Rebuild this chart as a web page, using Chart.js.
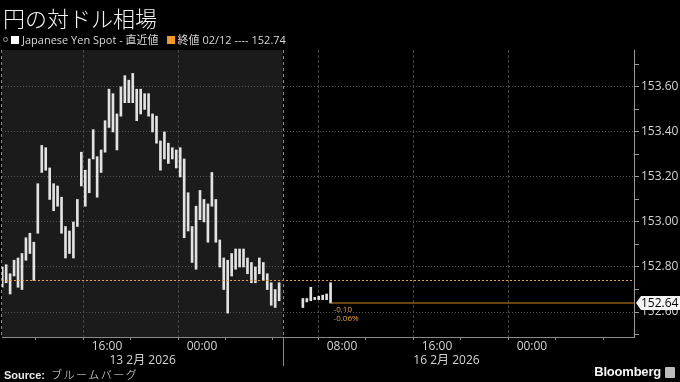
<!DOCTYPE html>
<html>
<head>
<meta charset="utf-8">
<script src="https://cdn.jsdelivr.net/npm/chart.js@4/dist/chart.umd.min.js"></script>
<style>
body { margin:0; background:#000; }
#wrap { position:relative; width:680px; height:382px; background:#000; overflow:hidden;
  font-family:"Open Sans","Noto Sans CJK JP",sans-serif; color:#dcdcdc; }
#chart { position:absolute; left:0; top:0; }
#title { position:absolute; left:3px; top:1px; font-family:"Noto Sans CJK JP",sans-serif; font-weight:300;
  font-size:22px; line-height:32px; color:#f2f2f2; white-space:nowrap; }
#legend { position:absolute; left:3px; top:32px; font-size:11px; line-height:16px; white-space:nowrap; color:#d8d8d8; }
#legend .sq { display:inline-block; width:8px; height:8px; margin-right:3px; vertical-align:-0px; }
#legend .pin { display:inline-block; width:3px; height:3px; border:1px solid #999; border-radius:3px; margin-right:3px; vertical-align:2px; }
#source { position:absolute; left:4px; top:366px; font-size:11px; line-height:16px; white-space:nowrap; color:#e8e8e8; }
#source b { font-family:"Liberation Sans",sans-serif; font-weight:bold; }
#source span { font-family:"Noto Sans CJK JP",sans-serif; font-weight:300; letter-spacing:1.5px; margin-left:6px; }
#brand { position:absolute; right:19px; top:364px; font-family:"Liberation Sans",sans-serif; font-weight:bold;
  font-size:13px; line-height:16px; color:#f4f4f4; letter-spacing:-0.2px; }
#brandIcon { position:absolute; left:665px; top:367px; width:10px; height:11px; background:#bdbdbd; border-radius:1px; }
</style>
</head>
<body>
<div id="wrap">
  <canvas id="chart" width="680" height="382"></canvas>
  <div id="title">円の対ドル相場</div>
  <div id="legend"></div>
  <div id="source"><b>Source:</b><span>ブルームバーグ</span></div>
  <div id="brand">Bloomberg</div>
  <div id="brandIcon"></div>
</div>
<script>
// 20 minute high/low bars, Tokyo time
var barMinutes = 20;
var fridayStartHour = 7;               // 13 Feb 07:00
var mondayStartHour = 4 + 32 / 60;     // 16 Feb 04:32
var fridayLow = [152.71,152.73,152.68,152.76,152.71,152.70,152.83,152.86,152.74,152.95,
  153.22,153.23,153.10,153.05,153.07,152.95,152.84,152.86,152.84,152.98,
  153.16,153.07,153.13,153.28,153.11,153.22,153.31,153.42,153.40,153.32,
  153.47,153.53,153.53,153.53,153.45,153.48,153.50,153.47,153.40,153.35,
  153.23,153.28,153.26,153.28,153.24,153.20,152.93,152.96,152.82,152.79,
  153.01,153.00,152.91,153.07,152.91,152.80,152.70,152.595,152.76,152.79,
  152.80,152.80,152.77,152.73,152.73,152.77,152.74,152.70,152.63,152.62,152.65];
var fridayHigh = [152.80,152.81,152.77,152.83,152.84,152.86,152.93,152.95,152.91,153.17,
  153.34,153.33,153.24,153.17,153.16,153.11,152.98,152.96,153.00,153.10,
  153.31,153.23,153.28,153.41,153.29,153.32,153.45,153.59,153.57,153.48,
  153.60,153.65,153.63,153.66,153.59,153.59,153.57,153.57,153.48,153.47,
  153.36,153.40,153.35,153.33,153.32,153.33,153.28,153.13,152.98,153.07,
  153.14,153.10,153.08,153.22,153.10,152.92,152.84,152.83,152.86,152.88,
  152.88,152.88,152.84,152.82,152.80,152.84,152.82,152.77,152.73,152.70,152.73];
var mondayLow  = [152.62,152.645,152.65,152.655,152.655,152.655,152.655,152.64];
var mondayHigh = [152.66,152.66,152.71,152.665,152.67,152.675,152.68,152.73];

var prevClose = 152.74;
var prevCloseDate = '02/12';
var lastPrice = 152.64;
var changeText = ['-0.10', '-0.06%'];
var seriesName = 'Japanese Yen Spot - 直近値';

var yTickValues = [152.5,152.6,152.7,152.8,152.9,153.0,153.1,153.2,153.3,153.4,153.5,153.6,153.7];
var fridayTickHours = [8, 12, 16, 20, 24, 28];
var fridayTickLabels = ['', '', '16:00', '', '00:00', ''];
var mondayTickHours = [4, 8, 12, 16, 20, 24, 28];
var mondayTickLabels = ['', '08:00', '', '16:00', '', '00:00', ''];
var dateLabels = ['13 2月 2026', '16 2月 2026'];
var dateLabelHours = [19, 16.8];   // fri, mon

// axis is in hours from 13 Feb 08:00 with the weekend squeezed out
function fri(h) { return h - 8; }
function mon(h) { return h + 19.8; }
var sessionBreak = fri(30.8);
var xMin = fri(7.15), xMax = mon(32.6);

document.getElementById('legend').innerHTML =
  '<span class="pin"></span><span class="sq" style="background:#fff"></span>' + seriesName +
  '<span class="sq" style="background:#f39a1e;margin-left:8px"></span>終値 ' + prevCloseDate + ' ---- ' + prevClose.toFixed(2);

var bars = [];
var step = barMinutes / 60;
for (var i = 0; i < fridayLow.length; i++)
  bars.push({ x: fri(fridayStartHour + i * step + step / 2), y: [fridayLow[i], fridayHigh[i]] });
for (var j = 0; j < mondayLow.length; j++)
  bars.push({ x: mon(mondayStartHour + j * step + step / 2), y: [mondayLow[j], mondayHigh[j]] });
var lastX = bars[bars.length - 1].x;

var xTickValues = [], xTickLabels = [], xTickGrid = [];
fridayTickHours.forEach(function (h, k) { xTickValues.push(fri(h)); xTickLabels.push(fridayTickLabels[k]); xTickGrid.push(h % 8 === 0); });
mondayTickHours.forEach(function (h, k) { xTickValues.push(mon(h)); xTickLabels.push(mondayTickLabels[k]); xTickGrid.push(h % 8 === 0); });

var decor = {
  id: 'decor',
  beforeDraw: function (chart) {
    var a = chart.chartArea, ctx = chart.ctx;
    var sepX = chart.scales.x.getPixelForValue(sessionBreak);
    ctx.save();
    ctx.fillStyle = '#1b1b1b';
    ctx.fillRect(a.left, a.top, sepX - a.left, a.bottom - a.top);
    ctx.restore();
  },
  afterDraw: function (chart) {
    var a = chart.chartArea, ctx = chart.ctx, xs = chart.scales.x, ys = chart.scales.y;
    var sepX = Math.round(xs.getPixelForValue(sessionBreak)) + 0.5;
    ctx.save();
    ctx.strokeStyle = '#8a8a8a';
    ctx.lineWidth = 1;
    ctx.setLineDash([3, 3]);
    ctx.beginPath();
    ctx.moveTo(sepX, a.top); ctx.lineTo(sepX, a.bottom);
    ctx.moveTo(a.left - 0.5, a.top); ctx.lineTo(a.left - 0.5, a.bottom);
    ctx.stroke();
    ctx.setLineDash([]);
    ctx.beginPath();
    ctx.moveTo(sepX, a.bottom); ctx.lineTo(sepX, 366);
    ctx.stroke();

    // day labels
    ctx.fillStyle = '#d4d4d4';
    ctx.font = '12px "Open Sans", "Noto Sans CJK JP"';
    ctx.textAlign = 'center';
    ctx.textBaseline = 'middle';
    ctx.fillText(dateLabels[0], xs.getPixelForValue(fri(dateLabelHours[0])), 361);
    ctx.fillText(dateLabels[1], xs.getPixelForValue(mon(dateLabelHours[1])), 361);

    // change labels next to last bar
    var ly = ys.getPixelForValue(lastPrice);
    var lx = xs.getPixelForValue(lastX) + 3;
    ctx.fillStyle = '#f0a030';
    ctx.font = '8px "Open Sans"';
    ctx.textAlign = 'left';
    ctx.fillText(changeText[0], lx, ly + 7);
    ctx.fillText(changeText[1], lx, ly + 16);

    // last price box
    var bx = a.right + 2;
    ctx.fillStyle = '#f4f4f4';
    ctx.beginPath();
    ctx.moveTo(bx, ly);
    ctx.lineTo(bx + 5, ly - 7);
    ctx.lineTo(680, ly - 7);
    ctx.lineTo(680, ly + 7);
    ctx.lineTo(bx + 5, ly + 7);
    ctx.closePath();
    ctx.fill();
    ctx.fillStyle = '#000';
    ctx.font = '12px "Open Sans"';
    ctx.fillText(lastPrice.toFixed(2), bx + 5, ly + 0.5);
    ctx.restore();
  }
};

new Chart(document.getElementById('chart').getContext('2d'), {
  type: 'bar',
  data: {
    datasets: [
      { type: 'line', data: [{ x: xMin, y: prevClose }, { x: xMax, y: prevClose }],
        borderColor: '#f0a030', borderWidth: 1, borderDash: [2, 2], pointRadius: 0, order: 0 },
      { type: 'line', data: [{ x: lastX, y: lastPrice }, { x: xMax, y: lastPrice }],
        borderColor: '#d4861e', borderWidth: 1, pointRadius: 0, order: 0 },
      { type: 'bar', data: bars, backgroundColor: '#e2e2e2', borderWidth: 0,
        barThickness: 2, order: 1 }
    ]
  },
  options: {
    responsive: false,
    animation: false,
    layout: { padding: { top: 50, left: 2, right: 0, bottom: 0 } },
    plugins: { legend: { display: false }, tooltip: { enabled: false } },
    scales: {
      x: {
        type: 'linear', min: xMin, max: xMax, offset: false,
        afterBuildTicks: function (s) { s.ticks = xTickValues.map(function (v) { return { value: v }; }); },
        afterFit: function (s) { s.height = 45; },
        ticks: {
          autoSkip: false, maxRotation: 0, padding: -1, color: '#d4d4d4',
          font: { family: 'Open Sans', size: 12 },
          callback: function (v, i) { return xTickLabels[i]; }
        },
        grid: {
          color: function (c) { return (c.index !== undefined && xTickGrid[c.index]) ? '#444' : 'rgba(0,0,0,0)'; },
          tickColor: '#8a8a8a', tickLength: 3
        },
        border: { color: '#8a8a8a', dash: [3, 2] }
      },
      y: {
        position: 'right', min: 152.489, max: 153.764,
        afterBuildTicks: function (s) { s.ticks = yTickValues.map(function (v) { return { value: v }; }); },
        afterFit: function (s) { s.width = 46; },
        ticks: {
          padding: 2, color: '#d4d4d4', font: { family: 'Open Sans', size: 12 },
          callback: function (v) { return Math.round(v * 10) % 2 === 0 ? v.toFixed(2) : ''; }
        },
        grid: {
          color: function (c) { return (c.tick && Math.round(c.tick.value * 10) % 2 === 0) ? '#555' : 'rgba(0,0,0,0)'; },
          tickColor: '#9a9a9a', tickLength: 5
        },
        border: { color: '#9a9a9a', dash: [1, 2] }
      }
    }
  },
  plugins: [decor]
});
</script>
</body>
</html>
